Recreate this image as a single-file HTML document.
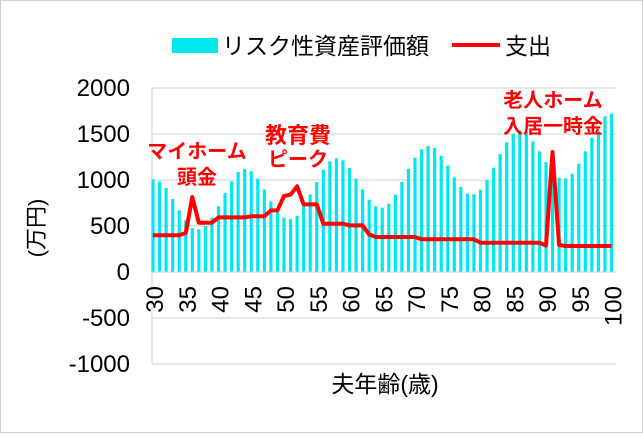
<!DOCTYPE html>
<html><head><meta charset="utf-8"><style>
body{margin:0;background:#fff}
svg text{font-family:"Liberation Sans","Noto Sans CJK JP",sans-serif}
</style></head><body>
<svg id="s" width="643" height="433" xmlns="http://www.w3.org/2000/svg">
<rect x="0.5" y="0.5" width="642" height="432" fill="#fff" stroke="#d0d0d0"/>
<g stroke="#d0d0d0" stroke-width="1">
<line x1="152" x2="616" y1="88" y2="88"/>
<line x1="152" x2="616" y1="134" y2="134"/>
<line x1="152" x2="616" y1="180" y2="180"/>
<line x1="152" x2="616" y1="226" y2="226"/>
<line x1="152" x2="616" y1="318" y2="318"/>
<line x1="152" x2="616" y1="364" y2="364"/>
<line x1="152" x2="152" y1="88" y2="364"/>
</g>
<g id="bars" fill="#00e8ee"></g>
<line x1="152" x2="616" y1="272" y2="272" stroke="#c8c8c8"/>
<polyline id="ln" fill="none" stroke="#f00" stroke-width="4" stroke-linejoin="round"/>
<g font-size="24" text-anchor="end" fill="#000">
<text x="130" y="96">2000</text><text x="130" y="142">1500</text><text x="130" y="188">1000</text>
<text x="130" y="234">500</text><text x="130" y="280">0</text><text x="130" y="326">-500</text><text x="130" y="372">-1000</text>
</g>
<g id="xl" font-size="24" fill="#000"></g>
<text transform="translate(44,228) rotate(-90)" font-size="22" text-anchor="middle">(万円)</text>
<text x="385" y="392" font-size="23" text-anchor="middle">夫年齢(歳)</text>
<rect x="172" y="38" width="46" height="15" fill="#00e8ee"/>
<text x="222" y="54" font-size="23">リスク性資産評価額</text>
<line x1="452" x2="500" y1="45" y2="45" stroke="#f00" stroke-width="4"/>
<text x="505" y="54" font-size="23">支出</text>
<g font-size="20" font-weight="bold" fill="#f00" text-anchor="middle">
<text x="197" y="158">マイホーム</text><text x="197" y="184">頭金</text>
<text x="298" y="143" font-size="22">教育費</text><text x="298" y="166">ピーク</text>
<text x="553" y="107">老人ホーム</text><text x="553" y="133">入居一時金</text>
</g>
</svg>
<script>
var b=[1007,985,913,793,670,562,478,464,500,590,714,858,985,1087,1120,1094,1014,898,768,663,590,576,612,725,844,978,1112,1203,1235,1214,1130,1014,898,786,714,699,743,841,978,1120,1243,1333,1370,1348,1264,1156,1029,924,851,844,895,1000,1134,1283,1409,1503,1540,1532,1420,1312,1196,1100,1025,1018,1069,1178,1312,1460,1532,1692,1721];
var l=[400,400,400,400,400,424,815,536,536,536,594,594,594,594,594,605,605,605,670,670,826,840,931,735,735,735,525,525,525,525,507,507,507,409,380,380,380,380,380,380,380,355,355,355,355,355,355,355,355,355,319,319,319,319,319,319,319,319,319,319,286,1304,293,283,283,283,283,283,283,283,283];
var ns="http://www.w3.org/2000/svg",g=document.getElementById('bars'),xl=document.getElementById('xl'),pts=[];
for(var i=0;i<71;i++){var x=153+i*6.55,h=b[i]*0.092;
var r=document.createElementNS(ns,'rect');r.setAttribute('x',x-1.6);r.setAttribute('y',272-h);r.setAttribute('width',3.2);r.setAttribute('height',h);g.appendChild(r);
pts.push(x.toFixed(1)+','+(272-l[i]*0.092).toFixed(1));
if(i%5==0){var t=document.createElementNS(ns,'text');t.setAttribute('transform','translate('+(x+10)+',286) rotate(-90)');t.setAttribute('text-anchor','end');t.textContent=30+i;xl.appendChild(t);}}
document.getElementById('ln').setAttribute('points',pts.join(' '));
</script>
</body></html>
